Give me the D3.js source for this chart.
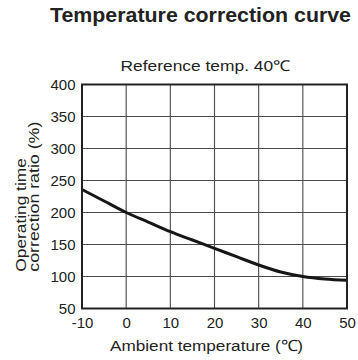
<!DOCTYPE html>
<html>
<head>
<meta charset="utf-8">
<script src="https://cdn.jsdelivr.net/npm/d3@7"></script>
<style>
  html, body { margin: 0; padding: 0; background: #fff; }
  svg { display: block; }
  text { font-family: "Liberation Sans", Arial, Helvetica, sans-serif; fill: #222; }
</style>
</head>
<body>
<svg id="chart" width="358" height="360"></svg>
<script>
// Ambient temperature (°C) and the operating-time correction ratio (%)
const temperatures = [-10, -5, 0, 5, 10, 15, 20, 25, 30, 35, 40, 45, 50];
const correctionRatios = [236, 218, 200, 185, 170, 157, 144, 131, 118, 107, 100, 96, 94];

const xTicks = [-10, 0, 10, 20, 30, 40, 50];
const yTicks = [50, 100, 150, 200, 250, 300, 350, 400];

const titleText = "Temperature correction curve";
const subtitleText = "Reference temp. 40\u2103";
const xTitleText = "Ambient temperature (\u2103)";
const yTitleLines = ["Operating time", "correction ratio (%)"];

const svg = d3.select("#chart");

const plot = { left: 82, right: 347, top: 84.5, bottom: 308.5 };

const x = d3.scaleLinear().domain([-10, 50]).range([plot.left, plot.right]);
const y = d3.scaleLinear().domain([50, 400]).range([plot.bottom, plot.top]);

// Plain ASCII hyphen for negative tick values
const plainNumber = d => String(d);

// Grid lines
const grid = svg.append("g").attr("stroke", "#4a4a4a").attr("stroke-width", 1.1);
grid.selectAll("line.v").data(xTicks.slice(1, -1)).join("line")
  .attr("x1", d => x(d)).attr("x2", d => x(d))
  .attr("y1", plot.top).attr("y2", plot.bottom);
grid.selectAll("line.h").data(yTicks.slice(1, -1)).join("line")
  .attr("x1", plot.left).attr("x2", plot.right)
  .attr("y1", d => y(d)).attr("y2", d => y(d));

// Curve
const line = d3.line()
  .x((d, i) => x(temperatures[i]))
  .y(d => y(d))
  .curve(d3.curveMonotoneX);
svg.append("path")
  .datum(correctionRatios)
  .attr("d", line)
  .attr("fill", "none")
  .attr("stroke", "#161616")
  .attr("stroke-width", 3)
  .attr("stroke-linecap", "butt");

// Frame
svg.append("rect")
  .attr("x", plot.left).attr("y", plot.top)
  .attr("width", plot.right - plot.left).attr("height", plot.bottom - plot.top)
  .attr("fill", "none").attr("stroke", "#222").attr("stroke-width", 2);

// Axis tick labels
const xAxis = d3.axisBottom(x).tickValues(xTicks).tickSize(0).tickPadding(0).tickFormat(plainNumber);
const gx = svg.append("g").attr("transform", `translate(0,${plot.bottom})`).call(xAxis);
gx.select(".domain").remove();
gx.selectAll("text")
  .attr("y", 19.5).attr("dy", null)
  .style("font-size", "15px").attr("fill", "#222");

const yAxis = d3.axisLeft(y).tickValues(yTicks).tickSize(0).tickPadding(0).tickFormat(plainNumber);
const gy = svg.append("g").attr("transform", `translate(${plot.left},0)`).call(yAxis);
gy.select(".domain").remove();
gy.selectAll("text")
  .attr("x", -6.5).attr("dy", "0.36em")
  .style("font-size", "15px").attr("fill", "#222");

// Titles
svg.append("text")
  .attr("x", 50).attr("y", 21.5)
  .attr("textLength", 301).attr("lengthAdjust", "spacingAndGlyphs")
  .style("font-size", "19.5px").style("font-weight", "bold")
  .text(titleText);

svg.append("text")
  .attr("x", 120.5).attr("y", 70.7)
  .attr("textLength", 170).attr("lengthAdjust", "spacingAndGlyphs")
  .style("font-size", "15px")
  .text(subtitleText);

svg.append("text")
  .attr("x", 110).attr("y", 350.7)
  .attr("textLength", 193).attr("lengthAdjust", "spacingAndGlyphs")
  .style("font-size", "15.5px")
  .text(xTitleText);

const yTitle = svg.append("g");
const yTitleBase = [25.8, 38.5];
const yTitleLen = [113.5, 150];
yTitleLines.forEach((t, i) => {
  yTitle.append("text")
    .attr("transform", `translate(${yTitleBase[i]},271.7) rotate(-90)`)
    .attr("textLength", yTitleLen[i]).attr("lengthAdjust", "spacingAndGlyphs")
    .style("font-size", "15px")
    .text(t);
});
</script>
</body>
</html>
